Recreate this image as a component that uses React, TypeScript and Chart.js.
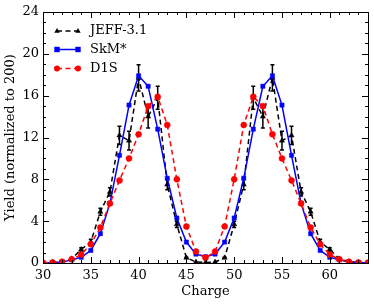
import React, { useEffect, useRef } from "react";
import { Chart, registerables } from "chart.js";

Chart.register(...registerables);

const charges = [30, 31, 32, 33, 34, 35, 36, 37, 38, 39, 40, 41, 42, 43, 44, 45, 46, 47, 48, 49, 50, 51, 52, 53, 54, 55, 56, 57, 58, 59, 60, 61, 62, 63, 64];
const jeffYield = [0.02, 0.05, 0.12, 0.4, 1.3, 2.0, 4.9, 6.8, 12.2, 11.7, 17.7, 14.0, 15.8, 7.5, 3.7, 0.5, 0.1, 0.05, 0.1, 0.5, 3.7, 7.5, 15.8, 14.0, 17.7, 11.7, 12.2, 6.8, 4.9, 2.0, 1.3, 0.4, 0.12, 0.05, 0.02];
const jeffErr = [0, 0, 0, 0.05, 0.15, 0.27, 0.33, 0.4, 0.88, 0.9, 1.25, 1.1, 1.1, 0.5, 0.3, 0.05, 0, 0, 0, 0.05, 0.3, 0.5, 1.1, 1.1, 1.25, 0.9, 0.88, 0.4, 0.33, 0.27, 0.15, 0.05, 0, 0, 0];
const skmYield = [0.03, 0.05, 0.1, 0.3, 0.55, 1.2, 2.8, 5.7, 10.3, 15.1, 17.9, 16.9, 12.8, 8.1, 4.3, 2.0, 0.85, 0.6, 0.85, 2.0, 4.3, 8.1, 12.8, 16.9, 17.9, 15.1, 10.3, 5.7, 2.8, 1.2, 0.55, 0.3, 0.1, 0.05, 0.03];
const d1sYield = [0.03, 0.05, 0.12, 0.35, 0.8, 1.8, 3.4, 5.7, 7.9, 10.0, 12.3, 15.0, 15.9, 13.2, 8.0, 3.5, 1.1, 0.5, 1.1, 3.5, 8.0, 13.2, 15.9, 15.0, 12.3, 10.0, 7.9, 5.7, 3.4, 1.8, 0.8, 0.35, 0.12, 0.05, 0.03];

const xTickValues = [30, 35, 40, 45, 50, 55, 60];
const yTickValues = [0, 4, 8, 12, 16, 20, 24];
const seriesNames = ["JEFF-3.1", "SkM*", "D1S"];
const seriesColors = ["#000000", "#0000ff", "#ff0000"];

const FONT_FAMILY = "'DejaVu Serif', serif";
const font = { family: FONT_FAMILY, size: 13 };
const DASH = [5, 3.5];

const toPoints = (ys: number[]) => charges.map((x, i) => ({ x, y: ys[i] }));

const errorBarPlugin = {
  id: "errorBars",
  afterDatasetDraw(chart: any, args: any) {
    if (args.index !== 0) return;
    const { ctx, scales } = chart;
    const xs = scales.x;
    const ys = scales.y;
    ctx.save();
    ctx.strokeStyle = "#000";
    ctx.lineWidth = 1.5;
    ctx.setLineDash([]);
    charges.forEach((c, i) => {
      const e = jeffErr[i];
      if (e < 0.04) return;
      const px = xs.getPixelForValue(c);
      const y1 = ys.getPixelForValue(jeffYield[i] + e);
      const y2 = ys.getPixelForValue(jeffYield[i] - e);
      ctx.beginPath();
      ctx.moveTo(px, y1);
      ctx.lineTo(px, y2);
      ctx.moveTo(px - 2, y1);
      ctx.lineTo(px + 2, y1);
      ctx.moveTo(px - 2, y2);
      ctx.lineTo(px + 2, y2);
      ctx.stroke();
    });
    ctx.restore();
  },
};

function drawMarker(ctx: CanvasRenderingContext2D, kind: number, x: number, y: number, color: string) {
  ctx.fillStyle = color;
  ctx.beginPath();
  if (kind === 0) {
    const r = 3;
    ctx.moveTo(x, y - r);
    ctx.lineTo(x + r * 0.9, y + r * 0.6);
    ctx.lineTo(x - r * 0.9, y + r * 0.6);
    ctx.closePath();
  } else if (kind === 1) {
    ctx.rect(x - 2.7, y - 2.7, 5.4, 5.4);
  } else {
    ctx.arc(x, y, 3, 0, Math.PI * 2);
  }
  ctx.fill();
}

const framePlugin = {
  id: "frameTicksLegend",
  afterDatasetsDraw(chart: any) {
    const { ctx, chartArea, scales } = chart;
    const { left, right, top, bottom } = chartArea;
    const xs = scales.x;
    const ys = scales.y;
    ctx.save();
    ctx.setLineDash([]);
    ctx.strokeStyle = "#000";
    ctx.lineWidth = 1;
    ctx.strokeRect(Math.round(left) + 0.5, Math.round(top) + 0.5, Math.round(right - left), Math.round(bottom - top));
    ctx.beginPath();
    for (let v = 30; v <= 64; v++) {
      const px = Math.round(xs.getPixelForValue(v)) + 0.5;
      const len = xTickValues.includes(v) ? 6 : 3;
      ctx.moveTo(px, bottom);
      ctx.lineTo(px, bottom - len);
      ctx.moveTo(px, top);
      ctx.lineTo(px, top + len);
    }
    for (let v = 0; v <= 24; v++) {
      const py = Math.round(ys.getPixelForValue(v)) + 0.5;
      const len = yTickValues.includes(v) ? 6 : 3;
      ctx.moveTo(left, py);
      ctx.lineTo(left + len, py);
      ctx.moveTo(right, py);
      ctx.lineTo(right - len, py);
    }
    ctx.stroke();

    // legend
    const rowsY = [31, 49.5, 68.5];
    const x1 = 57;
    const x2 = 78;
    seriesNames.forEach((name, k) => {
      const y = rowsY[k];
      ctx.strokeStyle = seriesColors[k];
      ctx.lineWidth = 1.5;
      ctx.setLineDash(k === 1 ? [] : DASH);
      ctx.beginPath();
      ctx.moveTo(x1, y);
      ctx.lineTo(x2, y);
      ctx.stroke();
      ctx.setLineDash([]);
      drawMarker(ctx, k, x1, y, seriesColors[k]);
      drawMarker(ctx, k, x2, y, seriesColors[k]);
      ctx.fillStyle = "#000";
      ctx.font = `13px ${FONT_FAMILY}`;
      ctx.textBaseline = "middle";
      ctx.textAlign = "left";
      ctx.fillText(name, 90, y);
    });
    ctx.restore();
  },
};

export default function App() {
  const ref = useRef<HTMLCanvasElement | null>(null);
  useEffect(() => {
    if (!ref.current) return;
    const chart = new Chart(ref.current, {
      type: "line",
      data: {
        datasets: [
          {
            label: seriesNames[0],
            data: toPoints(jeffYield),
            borderColor: seriesColors[0],
            backgroundColor: seriesColors[0],
            borderWidth: 1.5,
            borderDash: DASH,
            pointStyle: "triangle",
            pointRadius: 3,
            pointBorderWidth: 0.5,
            pointBackgroundColor: seriesColors[0],
            pointBorderColor: seriesColors[0],
            tension: 0,
            order: 2,
          },
          {
            label: seriesNames[1],
            data: toPoints(skmYield),
            borderColor: seriesColors[1],
            backgroundColor: seriesColors[1],
            borderWidth: 1.5,
            pointStyle: "rect",
            pointRadius: 3,
            pointBorderWidth: 0.5,
            pointBackgroundColor: seriesColors[1],
            pointBorderColor: seriesColors[1],
            tension: 0,
            order: 1,
          },
          {
            label: seriesNames[2],
            data: toPoints(d1sYield),
            borderColor: seriesColors[2],
            backgroundColor: seriesColors[2],
            borderWidth: 1.5,
            borderDash: DASH,
            pointStyle: "circle",
            pointRadius: 3,
            pointBorderWidth: 0.5,
            pointBackgroundColor: seriesColors[2],
            pointBorderColor: seriesColors[2],
            tension: 0,
            order: 0,
          },
        ],
      },
      options: {
        animation: false,
        responsive: false,
        events: [],
        layout: { padding: { top: 12, right: 6, left: 0, bottom: 0 } },
        plugins: { legend: { display: false }, tooltip: { enabled: false } },
        scales: {
          x: {
            type: "linear",
            min: 30,
            max: 64,
            grid: { display: false, drawTicks: false },
            border: { display: false },
            ticks: { font, color: "#000", padding: 5, maxRotation: 0, autoSkip: false },
            afterBuildTicks: (s: any) => {
              s.ticks = xTickValues.map((v) => ({ value: v }));
            },
            afterFit: (s: any) => {
              s.height = 42;
            },
            title: { display: true, text: "Charge", font, color: "#000", padding: { top: 0, bottom: 6 } },
          },
          y: {
            type: "linear",
            min: 0,
            max: 24,
            grid: { display: false, drawTicks: false },
            border: { display: false },
            ticks: { font, color: "#000", padding: 4, autoSkip: false },
            afterBuildTicks: (s: any) => {
              s.ticks = yTickValues.map((v) => ({ value: v }));
            },
            afterFit: (s: any) => {
              s.width = 43;
            },
            title: { display: true, text: "Yield (normalized to 200)", font, color: "#000", padding: { top: 3, bottom: 0 } },
          },
        },
      },
      plugins: [errorBarPlugin, framePlugin],
    } as any);
    return () => chart.destroy();
  }, []);
  return (
    <div style={{ position: "absolute", left: 0, top: 0, width: 374, height: 305, background: "#fff" }}>
      <canvas ref={ref} width={374} height={305} />
    </div>
  );
}
